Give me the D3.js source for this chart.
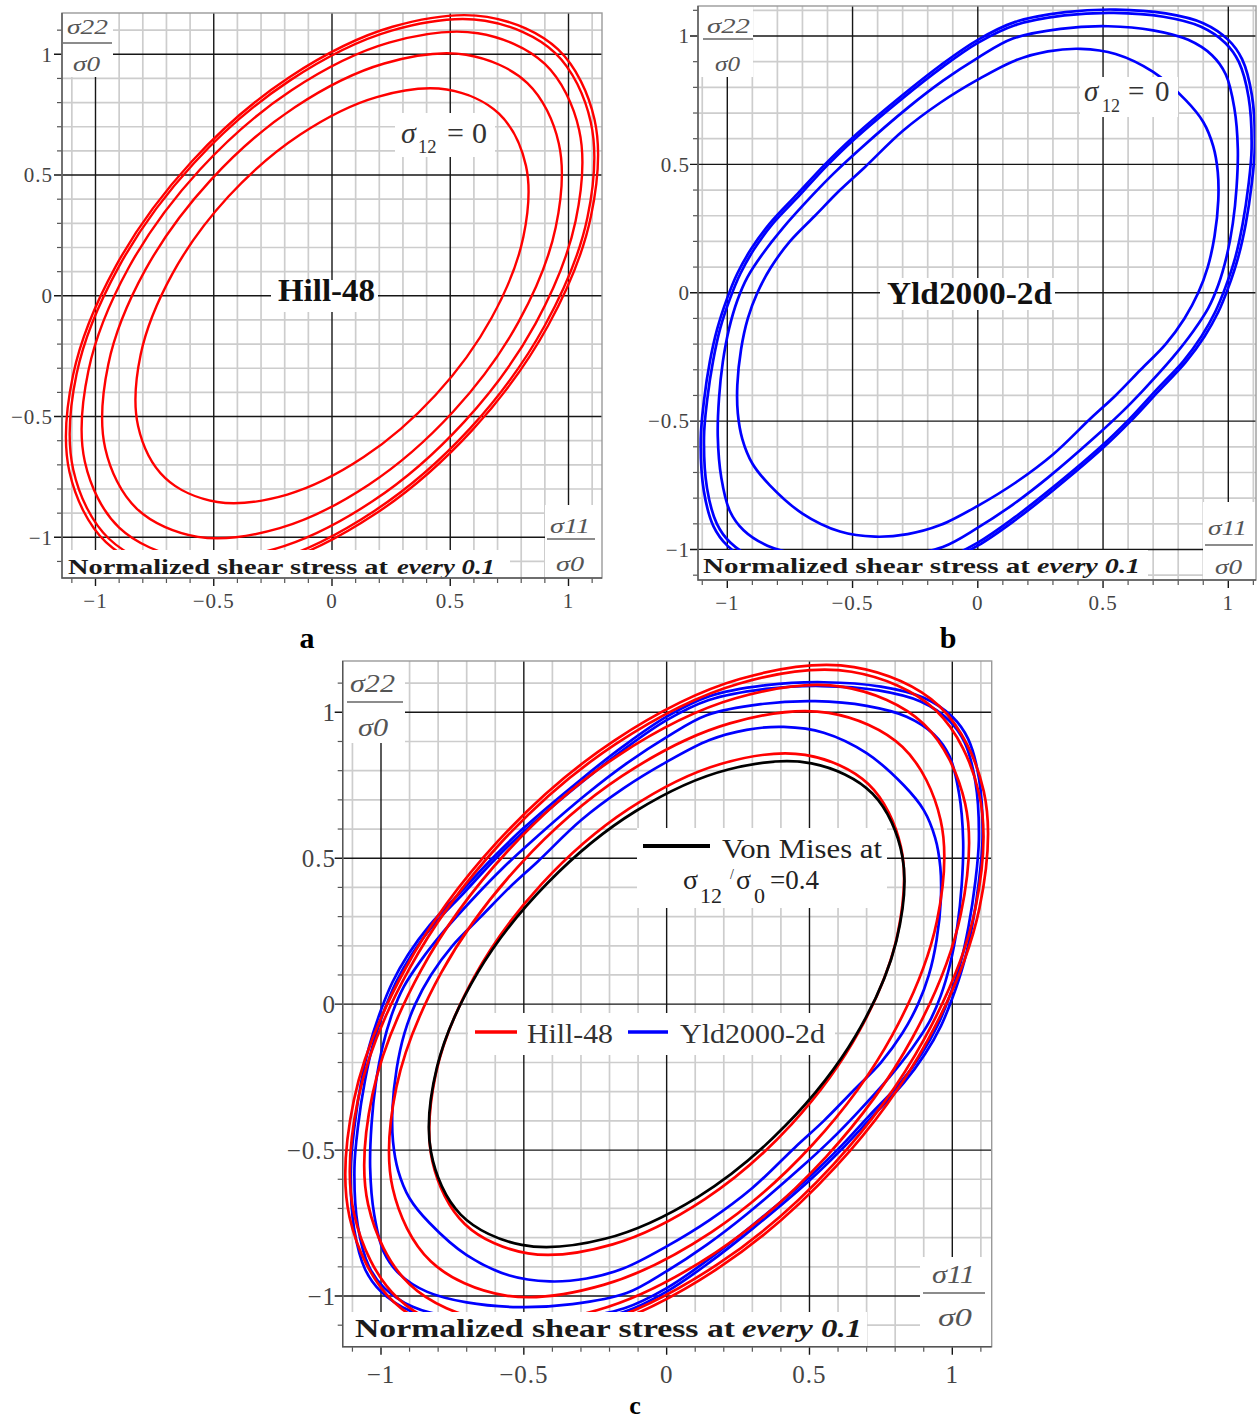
<!DOCTYPE html>
<html>
<head>
<meta charset="utf-8">
<script src="https://cdn.jsdelivr.net/npm/d3@7"></script>
<style>
  body { margin: 0; background: #fff; }
  svg { display: block; }
</style>
</head>
<body>
<svg id="fig" width="1260" height="1421"></svg>
<script>
// ---------------------------------------------------------------------------
// Yield loci in the (σ11/σ0, σ22/σ0) plane, one closed contour per shear level
// ---------------------------------------------------------------------------
const hill48Levels = [0, 0.1, 0.2, 0.3, 0.4];
const hill48 = [
  [[0.956,1.020],[0.656,1.155],[0.256,1.114],[-0.182,0.904],[-0.593,0.556],[-0.914,0.123],[-1.095,-0.329],[-1.110,-0.730],
   [-0.956,-1.020],[-0.656,-1.155],[-0.256,-1.114],[0.182,-0.904],[0.593,-0.556],[0.914,-0.123],[1.095,0.329],[1.110,0.730]],
  [[0.943,1.006],[0.647,1.139],[0.252,1.098],[-0.179,0.891],[-0.585,0.548],[-0.901,0.121],[-1.080,-0.324],[-1.094,-0.720],
   [-0.943,-1.006],[-0.647,-1.139],[-0.252,-1.098],[0.179,-0.891],[0.585,-0.548],[0.901,-0.121],[1.080,0.324],[1.094,0.720]],
  [[0.900,0.960],[0.617,1.087],[0.241,1.048],[-0.171,0.851],[-0.558,0.523],[-0.860,0.116],[-1.030,-0.310],[-1.045,-0.687],
   [-0.900,-0.960],[-0.617,-1.087],[-0.241,-1.048],[0.171,-0.851],[0.558,-0.523],[0.860,-0.116],[1.030,0.310],[1.045,0.687]],
  [[0.826,0.881],[0.567,0.998],[0.221,0.962],[-0.157,0.781],[-0.512,0.480],[-0.790,0.106],[-0.946,-0.284],[-0.959,-0.631],
   [-0.826,-0.881],[-0.567,-0.998],[-0.221,-0.962],[0.157,-0.781],[0.512,-0.480],[0.790,-0.106],[0.946,0.284],[0.959,0.631]],
  [[0.706,0.754],[0.485,0.854],[0.189,0.823],[-0.134,0.668],[-0.438,0.411],[-0.675,0.091],[-0.809,-0.243],[-0.820,-0.539],
   [-0.706,-0.754],[-0.485,-0.854],[-0.189,-0.823],[0.134,-0.668],[0.438,-0.411],[0.675,-0.091],[0.809,0.243],[0.820,0.539]]
];

const yld2000Levels = [0, 0.1, 0.2, 0.3];
const yld2000 = [
  [[1.000,0.020],[1.040,0.140],[1.070,0.270],[1.093,0.420],[1.106,0.570],[1.094,0.770],[1.055,0.910],[1.000,0.985],
   [0.900,1.050],[0.750,1.088],[0.550,1.103],[0.350,1.093],[0.150,1.055],[0.000,0.985],[-0.150,0.885],[-0.300,0.770],
   [-0.500,0.604],[-0.610,0.500],[-0.720,0.385],[-0.830,0.270],[-0.905,0.170],[-0.960,0.075],
   [-1.000,-0.020],[-1.040,-0.140],[-1.070,-0.270],[-1.093,-0.420],[-1.106,-0.570],[-1.094,-0.770],[-1.055,-0.910],[-1.000,-0.985],
   [-0.900,-1.050],[-0.750,-1.088],[-0.550,-1.103],[-0.350,-1.093],[-0.150,-1.055],[0.000,-0.985],[0.150,-0.885],[0.300,-0.770],
   [0.500,-0.604],[0.610,-0.500],[0.720,-0.385],[0.830,-0.270],[0.905,-0.170],[0.960,-0.075]],
  [[0.988,0.020],[1.028,0.138],[1.057,0.267],[1.080,0.415],[1.093,0.563],[1.081,0.761],[1.042,0.899],[0.988,0.973],
   [0.889,1.037],[0.741,1.075],[0.543,1.090],[0.346,1.080],[0.148,1.042],[0.000,0.973],[-0.148,0.874],[-0.296,0.761],
   [-0.494,0.597],[-0.603,0.494],[-0.711,0.380],[-0.820,0.267],[-0.894,0.168],[-0.948,0.074],
   [-0.988,-0.020],[-1.028,-0.138],[-1.057,-0.267],[-1.080,-0.415],[-1.093,-0.563],[-1.081,-0.761],[-1.042,-0.899],[-0.988,-0.973],
   [-0.889,-1.037],[-0.741,-1.075],[-0.543,-1.090],[-0.346,-1.080],[-0.148,-1.042],[0.000,-0.973],[0.148,-0.874],[0.296,-0.761],
   [0.494,-0.597],[0.603,-0.494],[0.711,-0.380],[0.820,-0.267],[0.894,-0.168],[0.948,-0.074]],
  [[0.960,0.030],[0.993,0.140],[1.018,0.270],[1.033,0.410],[1.038,0.560],[1.024,0.720],[0.990,0.850],[0.935,0.925],
   [0.840,0.985],[0.700,1.022],[0.520,1.038],[0.330,1.028],[0.140,0.990],[0.000,0.915],[-0.140,0.825],[-0.280,0.720],
   [-0.470,0.560],[-0.575,0.465],[-0.660,0.380],[-0.780,0.250],[-0.860,0.150],[-0.920,0.060],
   [-0.960,-0.030],[-0.993,-0.140],[-1.018,-0.270],[-1.033,-0.410],[-1.038,-0.560],[-1.024,-0.720],[-0.990,-0.850],[-0.935,-0.925],
   [-0.840,-0.985],[-0.700,-1.022],[-0.520,-1.038],[-0.330,-1.028],[-0.140,-0.990],[0.000,-0.915],[0.140,-0.825],[0.280,-0.720],
   [0.470,-0.560],[0.575,-0.465],[0.660,-0.380],[0.780,-0.250],[0.860,-0.150],[0.920,-0.060]],
  [[0.880,0.000],[0.918,0.100],[0.945,0.220],[0.960,0.360],[0.958,0.470],[0.940,0.570],[0.900,0.665],[0.830,0.750],
   [0.700,0.860],[0.550,0.930],[0.410,0.950],[0.280,0.940],[0.150,0.905],[0.000,0.830],[-0.150,0.740],[-0.300,0.630],
   [-0.450,0.490],[-0.550,0.400],[-0.650,0.300],[-0.750,0.200],[-0.825,0.100],
   [-0.880,0.000],[-0.918,-0.100],[-0.945,-0.220],[-0.960,-0.360],[-0.958,-0.470],[-0.940,-0.570],[-0.900,-0.665],[-0.830,-0.750],
   [-0.700,-0.860],[-0.550,-0.930],[-0.410,-0.950],[-0.280,-0.940],[-0.150,-0.905],[0.000,-0.830],[0.150,-0.740],[0.300,-0.630],
   [0.450,-0.490],[0.550,-0.400],[0.650,-0.300],[0.750,-0.200],[0.825,-0.100]]
];

const vonMisesLevel = 0.4;
const vonMises = [
  [0.721,0.721],[0.507,0.825],[0.216,0.804],[-0.109,0.661],[-0.416,0.416],[-0.661,0.109],[-0.804,-0.216],[-0.825,-0.507],
  [-0.721,-0.721],[-0.507,-0.825],[-0.216,-0.804],[0.109,-0.661],[0.416,-0.416],[0.661,-0.109],[0.804,0.216],[0.825,0.507]
];

const axisTicks = [-1, -0.5, 0, 0.5, 1];
const axisTickLabels = ["\u22121", "\u22120.5", "0", "0.5", "1"];

// ---------------------------------------------------------------------------
// Panel geometry (pixel frame and pixel positions of the ±1 ticks)
// ---------------------------------------------------------------------------
const SERIF = '"Liberation Serif","Times New Roman",serif';
const RED = "#ff0000", BLUE = "#0000ff", BLACK = "#000000";

const panels = [
  { key: "a", frame: [62, 13, 602, 578], xAt: [95.5, 568.5], yAt: [537.3, 54.3],
    tickSize: 21, xLabelBase: 608, yLabelRight: 53, curveWidth: 2.4,
    series: [{ curves: hill48, color: RED }],
    letter: { x: 307, y: 648, size: 30 },
    yFrac: { box: [62, 13, 113, 77], top: [67, 108, 34], bar: [63, 112, 43], bottom: [73, 100, 71], size: 21 },
    xFrac: { box: [545, 505, 602, 578], top: [550, 590, 533], bar: [547, 595, 539], bottom: [556, 584, 571], size: 21 },
    note: { box: [62, 550, 510, 578], a: [68, 388], b: [397, 495], base: 574, size: 21 },
    title: { text: "Hill-48", box: [271, 280, 378, 312], x0: 278, x1: 375, base: 301, size: 31 },
    s12: { box: [395, 113, 495, 157], sigma: 401, sub: 418, eq: 447, zero: 472, base: 143, subBase: 153, size: 30 } },
  { key: "b", frame: [698, 6, 1256, 580], xAt: [727.3, 1228.3], yAt: [549.5, 36],
    tickSize: 21, xLabelBase: 610, yLabelRight: 690, curveWidth: 2.7,
    series: [{ curves: yld2000, color: BLUE }],
    letter: { x: 948, y: 648, size: 30 },
    yFrac: { box: [698, 6, 753, 77], top: [707, 750, 33], bar: [703, 753, 39], bottom: [715, 740, 71], size: 21 },
    xFrac: { box: [1203, 502, 1256, 580], top: [1208, 1247, 535], bar: [1205, 1253, 545], bottom: [1215, 1242, 574], size: 21 },
    note: { box: [698, 550, 1148, 580], a: [703, 1030], b: [1037, 1140], base: 573, size: 21 },
    title: { text: "Yld2000-2d", box: [880, 278, 1055, 310], x0: 887, x1: 1052, base: 304, size: 32 },
    s12: { box: [1080, 77, 1178, 117], sigma: 1084, sub: 1102, eq: 1128, zero: 1155, base: 101, subBase: 112, size: 29 } },
  { key: "c", frame: [342.7, 661, 991.7, 1346.7], xAt: [381, 952.3], yAt: [1296, 712.3],
    tickSize: 25, xLabelBase: 1383, yLabelRight: 336, curveWidth: 2.7,
    series: [{ curves: yld2000, color: BLUE }, { curves: hill48, color: RED }, { curves: [vonMises], color: BLACK }],
    letter: { x: 635, y: 1414, size: 26 },
    yFrac: { box: [343, 661, 405, 743], top: [350, 395, 692], bar: [347, 403, 702], bottom: [358, 388, 736], size: 25 },
    xFrac: { box: [920, 1257, 992, 1347], top: [932, 975, 1283], bar: [923, 985, 1293], bottom: [938, 972, 1326], size: 25 },
    note: { box: [343, 1312, 867, 1347], a: [355, 735], b: [742, 862], base: 1337, size: 26 } }
];

const svg = d3.select("#fig");
svg.append("rect").attr("width", 1260).attr("height", 1421).attr("fill", "#fff");

const closedLine = (x, y) => d3.line()
  .x(d => x(d[0])).y(d => y(d[1]))
  .curve(d3.curveCatmullRomClosed.alpha(0.5));

function whiteBox(g, b) {
  g.append("rect").attr("x", b[0]).attr("y", b[1])
    .attr("width", b[2] - b[0]).attr("height", b[3] - b[1]).attr("fill", "#fff");
}

function fitText(g, str, x0, x1, base, size, opts = {}) {
  return g.append("text")
    .attr("x", x0).attr("y", base)
    .attr("textLength", x1 - x0).attr("lengthAdjust", "spacingAndGlyphs")
    .attr("font-family", SERIF).attr("font-size", size)
    .attr("font-style", opts.italic ? "italic" : "normal")
    .attr("font-weight", opts.bold ? "bold" : "normal")
    .attr("fill", opts.fill || "#222")
    .text(str);
}

function fraction(g, f, num) {
  whiteBox(g, f.box);
  fitText(g, num, f.top[0], f.top[1], f.top[2], f.size, { italic: true, fill: "#555" });
  g.append("line").attr("x1", f.bar[0]).attr("x2", f.bar[1])
    .attr("y1", f.bar[2]).attr("y2", f.bar[2]).attr("stroke", "#666").attr("stroke-width", 1.6);
  fitText(g, "\u03c30", f.bottom[0], f.bottom[1], f.bottom[2], f.size, { italic: true, fill: "#555" });
}

function drawPanel(p) {
  const g = svg.append("g").attr("class", "panel-" + p.key);
  const [l, t, r, b] = p.frame;
  const x = d3.scaleLinear().domain([-1, 1]).range(p.xAt);
  const y = d3.scaleLinear().domain([-1, 1]).range(p.yAt);
  const xi = d3.range(Math.ceil(x.invert(l) * 10 - 1e-6), Math.floor(x.invert(r) * 10 + 1e-6) + 1);
  const yi = d3.range(Math.ceil(y.invert(b) * 10 - 1e-6), Math.floor(y.invert(t) * 10 + 1e-6) + 1);
  const isMajor = i => i % 5 === 0;

  // minor grid every 0.1
  const grid = g.append("g");
  grid.selectAll(".vx").data(xi.filter(i => !isMajor(i))).join("line")
    .attr("x1", i => x(i / 10)).attr("x2", i => x(i / 10)).attr("y1", t).attr("y2", b)
    .attr("stroke", "#cdcdcd").attr("stroke-width", 1.7);
  grid.selectAll(".hy").data(yi.filter(i => !isMajor(i))).join("line")
    .attr("y1", i => y(i / 10)).attr("y2", i => y(i / 10)).attr("x1", l).attr("x2", r)
    .attr("stroke", "#cdcdcd").attr("stroke-width", 1.7);

  // minor tick marks outside the left and bottom edges
  grid.selectAll(".tx").data(xi.filter(i => !isMajor(i))).join("line")
    .attr("x1", i => x(i / 10)).attr("x2", i => x(i / 10)).attr("y1", b).attr("y2", b + 5)
    .attr("stroke", "#555").attr("stroke-width", 1.2);
  grid.selectAll(".ty").data(yi.filter(i => !isMajor(i))).join("line")
    .attr("y1", i => y(i / 10)).attr("y2", i => y(i / 10)).attr("x1", l - 5).attr("x2", l)
    .attr("stroke", "#555").attr("stroke-width", 1.2);

  // major grid every 0.5, running slightly past the axes as ticks
  grid.selectAll(".mx").data(axisTicks).join("line")
    .attr("x1", d => x(d)).attr("x2", d => x(d)).attr("y1", t).attr("y2", b + 8)
    .attr("stroke", "#161616").attr("stroke-width", 1.4);
  grid.selectAll(".my").data(axisTicks).join("line")
    .attr("y1", d => y(d)).attr("y2", d => y(d)).attr("x1", l - 8).attr("x2", r)
    .attr("stroke", "#161616").attr("stroke-width", 1.4);

  // yield contours, clipped to the plotting frame
  const clipId = "clip-" + p.key;
  g.append("clipPath").attr("id", clipId).append("rect")
    .attr("x", l).attr("y", t).attr("width", r - l).attr("height", b - t);
  const curves = g.append("g").attr("clip-path", `url(#${clipId})`);
  const line = closedLine(x, y);
  p.series.forEach(s => {
    curves.append("g").selectAll("path").data(s.curves).join("path")
      .attr("d", line).attr("fill", "none")
      .attr("stroke", s.color).attr("stroke-width", p.curveWidth)
      .attr("stroke-linejoin", "round");
  });

  // tick labels
  g.selectAll(".xl").data(axisTicks).join("text")
    .attr("x", d => x(d)).attr("y", p.xLabelBase).attr("text-anchor", "middle")
    .attr("font-family", SERIF).attr("font-size", p.tickSize).attr("fill", "#444")
    .attr("letter-spacing", 1)
    .text((d, i) => axisTickLabels[i]);
  g.selectAll(".yl").data(axisTicks).join("text")
    .attr("x", p.yLabelRight).attr("y", d => y(d)).attr("dy", "0.35em").attr("text-anchor", "end")
    .attr("font-family", SERIF).attr("font-size", p.tickSize).attr("fill", "#444")
    .attr("letter-spacing", 1)
    .text((d, i) => axisTickLabels[i]);

  // axis captions as fractions
  fraction(g, p.yFrac, "\u03c322");
  fraction(g, p.xFrac, "\u03c311");

  // note along the bottom edge
  whiteBox(g, p.note.box);
  fitText(g, "Normalized shear stress at", p.note.a[0], p.note.a[1], p.note.base, p.note.size, { bold: true, fill: "#1a1a1a" });
  fitText(g, "every 0.1", p.note.b[0], p.note.b[1], p.note.base, p.note.size, { bold: true, italic: true, fill: "#1a1a1a" });

  // model name in the middle of the single-model panels
  if (p.title) {
    whiteBox(g, p.title.box);
    fitText(g, p.title.text, p.title.x0, p.title.x1, p.title.base, p.title.size, { bold: true, fill: "#111" });
  }

  // σ12 = 0 marker on the outermost contour
  if (p.s12) {
    const s = p.s12;
    whiteBox(g, s.box);
    const txt = (str, xx, yy, size, italic) => g.append("text").attr("x", xx).attr("y", yy)
      .attr("font-family", SERIF).attr("font-size", size).attr("font-style", italic ? "italic" : "normal")
      .attr("fill", "#333").text(str);
    txt("\u03c3", s.sigma, s.base, s.size, true);
    txt("12", s.sub, s.subBase, s.size * 0.62, false);
    txt("=", s.eq, s.base, s.size, false);
    txt(String(hill48Levels[0]), s.zero, s.base, s.size, false);
  }

  // frame
  g.append("rect").attr("x", l).attr("y", t).attr("width", r - l).attr("height", b - t)
    .attr("fill", "none").attr("stroke", "#9a9a9a").attr("stroke-width", 1.4);
  g.append("path").attr("d", `M${l},${t}V${b}H${r}`)
    .attr("fill", "none").attr("stroke", "#555").attr("stroke-width", 1.4);

  // panel letter
  g.append("text").attr("x", p.letter.x).attr("y", p.letter.y).attr("text-anchor", "middle")
    .attr("font-family", SERIF).attr("font-size", p.letter.size).attr("font-weight", "bold").attr("fill", "#000")
    .text(p.key);

  return { g, x, y };
}

panels.forEach(p => {
  const { g } = drawPanel(p);
  if (p.key !== "c") return;

  // legend for the von Mises contour
  whiteBox(g, [637, 828, 887, 908]);
  g.append("line").attr("x1", 643).attr("x2", 710).attr("y1", 846).attr("y2", 846)
    .attr("stroke", BLACK).attr("stroke-width", 4);
  fitText(g, "Von Mises at", 722, 882, 858, 28, { fill: "#222" });
  const t = (str, xx, yy, size) => g.append("text").attr("x", xx).attr("y", yy)
    .attr("font-family", SERIF).attr("font-size", size).attr("fill", "#222").text(str);
  t("\u03c3", 683, 889, 28);
  t("12", 700, 903, 22);
  t("/", 730, 879, 14);
  t("\u03c3", 736, 889, 28);
  t("0", 754, 903, 22);
  t("=" + vonMisesLevel, 770, 889, 27);

  // legend for the two anisotropic models
  whiteBox(g, [468, 1013, 835, 1055]);
  g.append("line").attr("x1", 475).attr("x2", 517).attr("y1", 1032).attr("y2", 1032)
    .attr("stroke", RED).attr("stroke-width", 3.5);
  fitText(g, "Hill-48", 527, 613, 1043, 28, { fill: "#333" });
  g.append("line").attr("x1", 628).attr("x2", 668).attr("y1", 1032).attr("y2", 1032)
    .attr("stroke", BLUE).attr("stroke-width", 3.5);
  fitText(g, "Yld2000-2d", 680, 825, 1043, 28, { fill: "#333" });
});
</script>
</body>
</html>
